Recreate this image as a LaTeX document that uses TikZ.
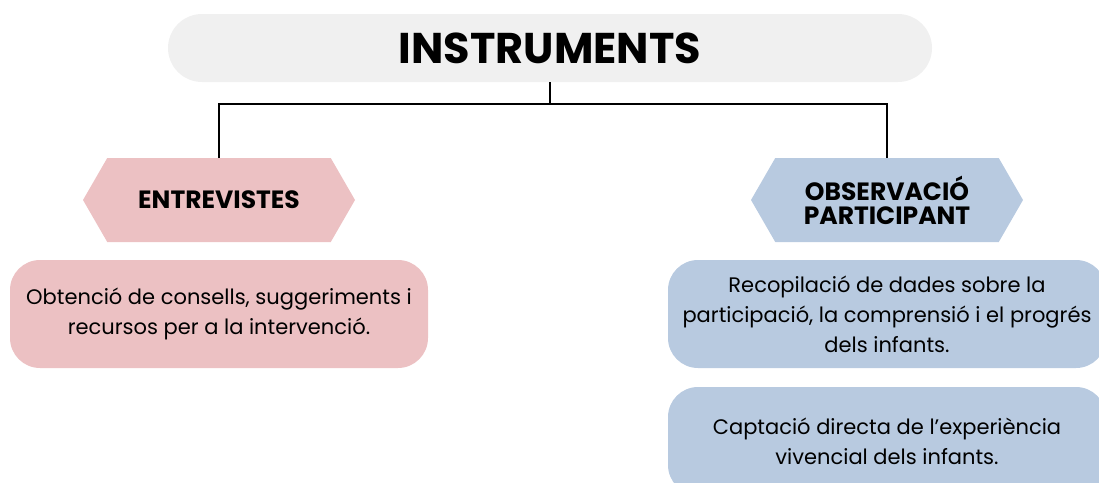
\documentclass[tikz,border=0pt]{standalone}
\usepackage{fontspec}
\setmainfont{Poppins}
\usetikzlibrary{shapes.symbols}

\definecolor{titlegray}{RGB}{240,240,240}
\definecolor{interviewpink}{RGB}{236,193,195}
\definecolor{observeblue}{RGB}{184,202,224}

\begin{document}
\begin{tikzpicture}[x=1pt, y=-1pt]
        \tikzstyle{heading}=[rectangle,rounded corners=34pt,fill=titlegray,minimum width=764pt,minimum height=68pt,inner sep=0pt,font=\bfseries\fontsize{43}{46}\selectfont]
        \tikzstyle{category}=[shape=signal,signal to=east and west,signal pointer angle=120,minimum width=272pt,minimum height=84pt,inner sep=0pt,align=center,font=\bfseries\fontsize{25}{24}\selectfont]
        \tikzstyle{detail}=[rectangle,rounded corners=30pt,minimum height=108pt,inner sep=0pt,align=center,font=\fontsize{21}{30}\selectfont]
        \tikzstyle{link}=[draw=black,line width=2.2pt]

        \useasboundingbox (0,0) rectangle (1099,482);
        \clip (0,0) rectangle (1099,482);

        \node[heading] (T) at (550,48) {INSTRUMENTS};
        \node[category,fill=interviewpink] (E) at (219,200) {ENTREVISTES};
        \node[category,fill=observeblue] (O) at (887,200) {OBSERVACIÓ\\PARTICIPANT};

        \node[detail,fill=interviewpink,minimum width=418pt] (E_1) at (219,314) {Obtenció de consells, suggeriments i\\recursos per a la intervenció.};
        \node[detail,fill=observeblue,minimum width=438pt] (O_1) at (887,314) {Recopilació de dades sobre la\\participació, la comprensió i el progrés\\dels infants.};
        \node[detail,fill=observeblue,minimum width=438pt] (O_2) at (887,441) {Captació directa de l'experiència\\vivencial dels infants.};

        \coordinate (J) at (T.south |- 0,104);
        \draw[link] (T.south) -- (J) -| (E.north);
        \draw[link] (J) -| (O.north);
\end{tikzpicture}
\end{document}
